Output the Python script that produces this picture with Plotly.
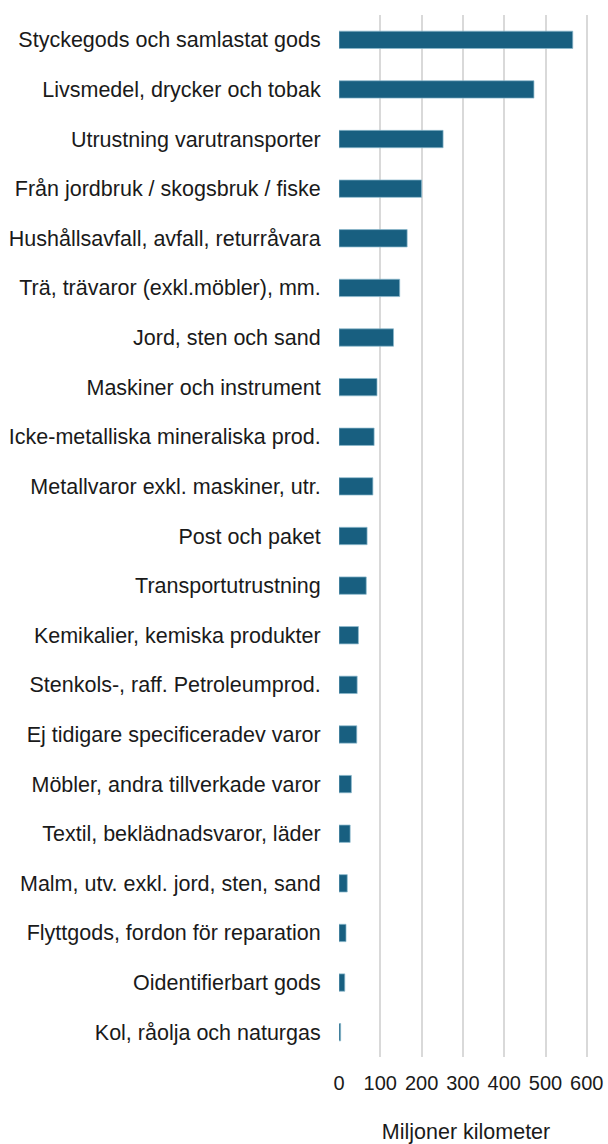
import plotly.graph_objects as go

categories = [
    "Styckegods och samlastat gods",
    "Livsmedel, drycker och tobak",
    "Utrustning varutransporter",
    "Från jordbruk / skogsbruk / fiske",
    "Hushållsavfall, avfall, returråvara",
    "Trä, trävaror (exkl.möbler), mm.",
    "Jord, sten och sand",
    "Maskiner och instrument",
    "Icke-metalliska mineraliska prod.",
    "Metallvaror exkl. maskiner, utr.",
    "Post och paket",
    "Transportutrustning",
    "Kemikalier, kemiska produkter",
    "Stenkols-, raff. Petroleumprod.",
    "Ej tidigare specificeradev varor",
    "Möbler, andra tillverkade varor",
    "Textil, beklädnadsvaror, läder",
    "Malm, utv. exkl. jord, sten, sand",
    "Flyttgods, fordon för reparation",
    "Oidentifierbart gods",
    "Kol, råolja och naturgas",
]
values = [566, 472, 252, 200, 165, 147, 132, 92, 85, 82, 68, 66, 47, 44, 43, 30, 27, 20, 17, 14, 4]
tick_vals = [0, 100, 200, 300, 400, 500, 600]

fig = go.Figure(
    go.Bar(
        x=values,
        y=categories,
        orientation="h",
        width=0.35,
        marker=dict(color="#185f80", line=dict(color="rgba(140,185,205,0.9)", width=0.8)),
    )
)

font = "Liberation Sans, Arial, sans-serif"
fig.update_layout(
    width=608,
    height=1144,
    margin=dict(l=339, r=15, t=15, b=87),
    plot_bgcolor="white",
    paper_bgcolor="white",
    showlegend=False,
    bargap=0.65,
    font=dict(family=font, size=21.5, color="#1a1a1a"),
)
fig.update_yaxes(
    autorange="reversed",
    automargin=False,
    showgrid=False,
    ticks="outside",
    ticklen=13,
    tickcolor="rgba(0,0,0,0)",
    tickfont=dict(size=21.5, color="#1a1a1a"),
    showline=False,
)
fig.update_xaxes(
    range=[0, 615],
    automargin=False,
    tickvals=tick_vals,
    showgrid=True,
    gridcolor="#d9d9d9",
    gridwidth=2,
    zeroline=False,
    ticks="outside",
    ticklen=8,
    tickcolor="rgba(0,0,0,0)",
    tickfont=dict(size=20, color="#1a1a1a"),
    title=dict(text="Miljoner kilometer", font=dict(size=21.5, color="#1a1a1a"), standoff=38),
)

fig.write_html(
    "out.html",
    config={"displayModeBar": False},
    post_script="document.body.style.margin='0';document.body.style.overflow='hidden';",
)
